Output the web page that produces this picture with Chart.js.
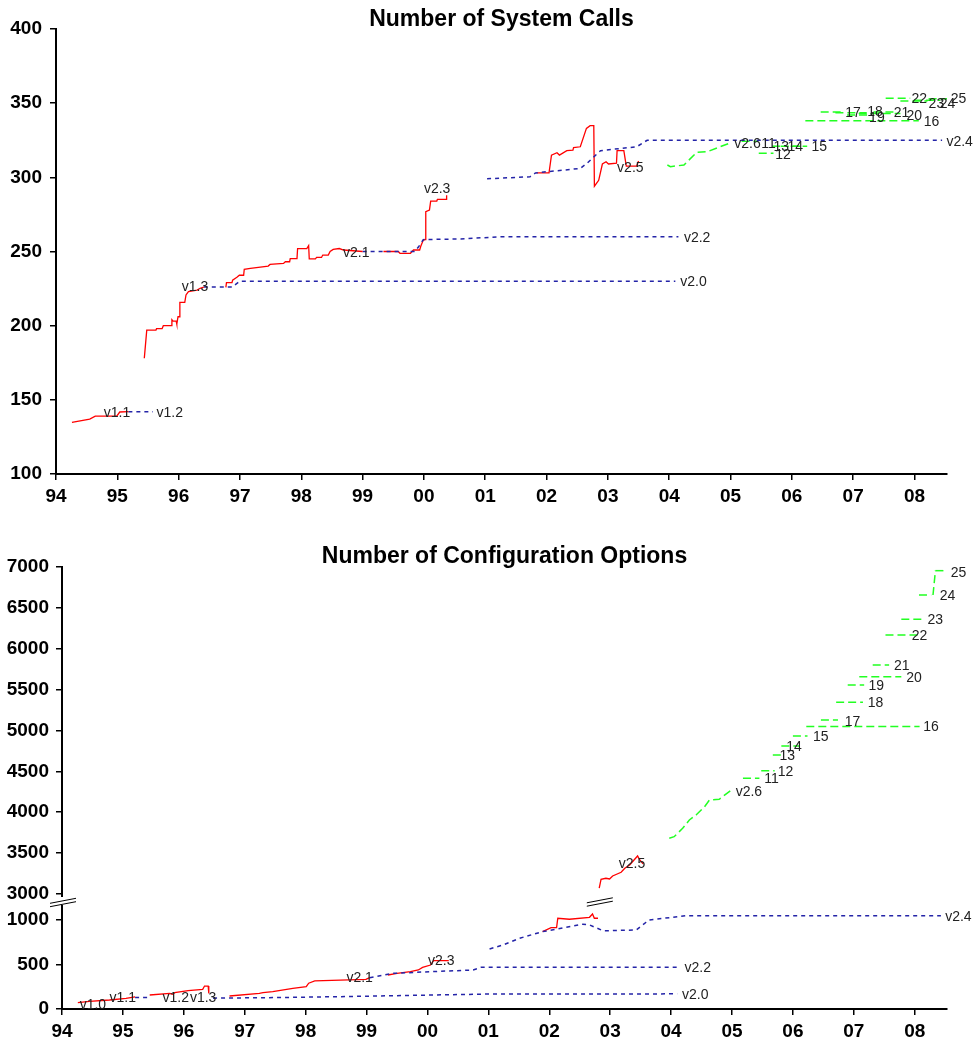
<!DOCTYPE html>
<html>
<head>
<meta charset="utf-8">
<script src="https://cdn.jsdelivr.net/npm/chart.js@4.4.1/dist/chart.umd.min.js"></script>
<style>
  body { margin: 0; background: #fff; }
  canvas { display: block; }
</style>
</head>
<body>
<canvas id="sysCalls" width="975" height="520"></canvas>
<canvas id="configOpts" width="975" height="523"></canvas>
<script>
// Axes
const yearTicks = [1994, 1995, 1996, 1997, 1998, 1999, 2000, 2001, 2002, 2003, 2004, 2005, 2006, 2007, 2008];
const yearLabels = ['94', '95', '96', '97', '98', '99', '00', '01', '02', '03', '04', '05', '06', '07', '08'];
const yearMin = 1994, yearMax = 2008.53;
const sysTicks = [100, 150, 200, 250, 300, 350, 400];
const cfgLowTicks = [0, 500, 1000];
const cfgHighTicks = [3000, 3500, 4000, 4500, 5000, 5500, 6000, 6500, 7000];

// Number of system calls: [year, count]
const sysV11 = [[1994.26, 134.8], [1994.55, 137], [1994.64, 139], [1994.99, 139], [1995.04, 141.8], [1995.18, 142]];
const sysV12 = [[1995.18, 142], [1995.58, 142]];
const sysV13 = [[1995.44, 178], [1995.48, 197], [1995.63, 197], [1995.64, 198], [1995.73, 198], [1995.75, 200],
  [1995.88, 200], [1995.89, 204], [1995.91, 203], [1995.96, 203], [1995.97, 201], [1995.99, 206], [1996.01, 206],
  [1996.02, 215.7], [1996.10, 215.7], [1996.12, 220.7], [1996.16, 223], [1996.30, 224], [1996.35, 225.2], [1996.41, 226]];
const sysV20 = [[1996.41, 226], [1996.87, 226], [1997.0, 230], [2004.1, 230]];
const sysV21 = [[1996.77, 225.8], [1996.78, 229], [1996.87, 229], [1996.88, 230.7], [1996.95, 232.6], [1996.99, 234],
  [1997.06, 234], [1997.07, 238], [1997.17, 238.6], [1997.30, 239.3], [1997.46, 240.2], [1997.49, 241.3], [1997.71, 242],
  [1997.74, 243.1], [1997.81, 243.1], [1997.82, 245.2], [1997.93, 245.2], [1997.94, 252], [1998.09, 252], [1998.12, 254],
  [1998.13, 245], [1998.23, 245], [1998.25, 246], [1998.33, 246], [1998.35, 247.6], [1998.44, 247.6], [1998.47, 250],
  [1998.52, 251.4], [1998.62, 252], [1998.69, 251], [1999.0, 250]];
const sysV22 = [[1999.0, 250], [1999.85, 250], [1999.91, 253], [1999.99, 258], [2000.6, 258.5], [2001.3, 260], [2004.15, 260]];
const sysV23 = [[1999.34, 250], [1999.58, 250], [1999.61, 248.8], [1999.78, 248.8], [1999.83, 251], [1999.93, 251],
  [1999.95, 253.7], [1999.99, 257.7], [2000.02, 258], [2000.03, 276.8], [2000.09, 278], [2000.11, 284], [2000.21, 284],
  [2000.22, 285.2], [2000.36, 285.2], [2000.37, 288]];
const sysV24 = [[2001.03, 299], [2001.73, 300.4], [2001.82, 303], [2002.55, 306], [2002.66, 309.5], [2002.88, 318],
  [2003.47, 320.6], [2003.64, 325], [2008.45, 325]];
const sysV25 = [[2001.84, 303], [2002.04, 303], [2002.08, 315], [2002.17, 316.6], [2002.21, 315], [2002.33, 318],
  [2002.43, 318.4], [2002.44, 320], [2002.55, 320.6], [2002.65, 333], [2002.71, 334.8], [2002.77, 334.8], [2002.78, 294],
  [2002.85, 298], [2002.91, 309], [2002.97, 310.5], [2003.01, 309], [2003.14, 309.5], [2003.15, 318], [2003.26, 318],
  [2003.30, 307.6], [2003.47, 307.6], [2003.50, 311]];
const sysV26 = [[2003.97, 308.3], [2004.02, 307.2], [2004.24, 308.3], [2004.45, 316.9], [2004.62, 317.3], [2005.0, 323.3]];
// 2.6.x minor releases: start year, end year, count
const sysMinorStart = [2005.18, 2005.46, 2005.68, 2005.82, 2005.98, 2006.22, 2006.47, 2006.71, 2006.90, 2007.09, 2007.33, 2007.53, 2007.77, 2007.99, 2008.23];
const sysMinorEnd = [2005.45, 2005.70, 2005.85, 2006.14, 2006.25, 2008.07, 2006.85, 2007.22, 2007.25, 2007.77, 2007.66, 2007.93, 2008.21, 2008.42, 2008.53];
const sysMinorValue = [324.3, 316.2, 321, 321, 321, 338.2, 344, 343.6, 342, 343, 344, 353.3, 351.5, 352, 353];

const sysLabelText = ['v1.1', 'v1.2', 'v1.3', 'v2.0', 'v2.1', 'v2.2', 'v2.3', 'v2.4', 'v2.5', 'v2.6',
  '11', '12', '13', '14', '15', '16', '17', '18', '19', '20', '21', '22', '23', '24', '25'];
const sysLabelX = [1994.78, 1995.64, 1996.05, 2004.18, 1998.68, 2004.24, 2000.0, 2008.52, 2003.15, 2005.06,
  2005.50, 2005.73, 2005.70, 2005.93, 2006.32, 2008.15, 2006.87, 2007.23, 2007.26, 2007.87, 2007.66, 2007.95, 2008.23, 2008.41, 2008.59];
const sysLabelY = [140.9, 140.9, 225.9, 229.2, 248.8, 259.1, 292.1, 324, 306.1, 322.5,
  322.5, 315.1, 320.4, 320.4, 320.4, 337.3, 343.4, 344.0, 340.0, 341.3, 343.4, 352.8, 349.4, 349.4, 352.8];

// Number of configuration options: [year, count]
const cfgV11 = [[1994.26, 71], [1994.45, 85], [1994.78, 101], [1995.05, 120], [1995.2, 135]];
const cfgV12 = [[1995.2, 129], [1995.45, 129]];
const cfgV13 = [[1995.44, 157], [1995.77, 176], [1995.82, 165], [1995.85, 183], [1996.07, 206], [1996.31, 221],
  [1996.34, 258], [1996.40, 258], [1996.41, 176]];
const cfgV20 = [[1996.48, 122], [1997.5, 128], [1998.5, 138], [1999.5, 150], [2000.5, 162], [2001.0, 168], [2004.1, 170]];
const cfgV21 = [[1996.75, 146], [1997.24, 176], [1997.3, 183], [1997.46, 195], [1997.79, 232], [1998.01, 250],
  [1998.05, 290], [1998.15, 315], [1998.99, 333], [1999.05, 352]];
const cfgV22 = [[1999.05, 352], [1999.43, 400], [2000.09, 420], [2000.75, 438], [2000.88, 468], [2004.14, 468]];
const cfgV23 = [[1999.35, 382], [1999.5, 400], [1999.72, 420], [1999.85, 438], [1999.92, 468], [2000.05, 494],
  [2000.1, 543], [2000.35, 543]];
const cfgV24 = [[2001.02, 674], [2001.24, 719], [2001.51, 794], [2001.89, 869], [2002.11, 895], [2002.55, 952],
  [2002.66, 944], [2002.88, 880], [2002.99, 880], [2003.43, 888], [2003.59, 974], [2003.64, 1000], [2004.25, 1048], [2008.43, 1048]];
const cfgV25Low = [[2001.89, 869], [2002.03, 913], [2002.12, 913], [2002.14, 1019], [2002.33, 1008], [2002.66, 1030],
  [2002.71, 1067], [2002.74, 1019], [2002.80, 1019]];
const cfgV25High = [[2002.82, 3070], [2002.85, 3180], [2002.93, 3192], [2002.99, 3183], [2003.04, 3220], [2003.18, 3265],
  [2003.24, 3314], [2003.32, 3355], [2003.45, 3465], [2003.48, 3424], [2003.54, 3367]];
const cfgV26 = [[2003.97, 3681], [2004.05, 3701], [2004.19, 3803], [2004.30, 3905], [2004.41, 3966], [2004.55, 4068],
  [2004.63, 4150], [2004.79, 4158], [2004.99, 4272]];
const cfgMinorStart = [2005.18, 2005.48, 2005.67, 2005.81, 2006.00, 2006.22, 2006.46, 2006.71, 2006.90, 2007.09, 2007.31, 2007.52, 2007.78, 2008.07, 2008.34];
const cfgMinorEnd = [2005.45, 2005.70, 2005.83, 2006.11, 2006.24, 2008.08, 2006.74, 2007.15, 2007.17, 2007.78, 2007.58, 2008.10, 2008.13, 2008.27, 2008.51];
const cfgMinorValue = [4415, 4508, 4700, 4810, 4933, 5050, 5128, 5345, 5557, 5658, 5801, 6168, 6360, 6657, 6955];
const cfgJump25 = [[2008.30, 6657], [2008.34, 6955]];
const cfgBreakYear = 2002.83;

const cfgLowLabelText = ['v1.0', 'v1.1', 'v1.2', 'v1.3', 'v2.0', 'v2.1', 'v2.2', 'v2.3', 'v2.4'];
const cfgLowLabelX = [1994.29, 1994.78, 1995.65, 1996.10, 2004.18, 1998.67, 2004.22, 2000.01, 2008.50];
const cfgLowLabelY = [45, 120, 120, 120, 157, 345, 457, 532, 1030];
const cfgHighLabelText = ['v2.5', 'v2.6', '11', '12', '13', '14', '15', '16', '17', '18', '19', '20', '21', '22', '23', '24', '25'];
const cfgHighLabelX = [2003.14, 2005.06, 2005.53, 2005.75, 2005.78, 2005.89, 2006.33, 2008.14, 2006.85, 2007.23, 2007.24, 2007.86, 2007.66, 2007.95, 2008.21, 2008.41, 2008.59];
const cfgHighLabelY = [3367, 4251, 4403, 4496, 4680, 4802, 4917, 5046, 5108, 5333, 5544, 5639, 5789, 6156, 6352, 6645, 6930];

Chart.defaults.font.family = "'Liberation Sans', Arial, sans-serif";
Chart.defaults.color = '#000';

var styles = {
  dev: { color: '#ff0000', width: 1.3, dash: [] },
  stable: { color: '#2424a8', width: 1.5, dash: [4, 4] },
  v26: { color: '#22ff22', width: 1.5, dash: [8, 4] }
};

function line(data, kind, yAxisID) {
  var st = styles[kind];
  return {
    data: data, yAxisID: yAxisID,
    borderColor: st.color, borderWidth: st.width, borderDash: st.dash,
    pointRadius: 0, tension: 0, fill: false
  };
}

function minorLines(start, end, value, yAxisID) {
  return start.map(function (s, i) {
    return line([[s, value[i]], [end[i], value[i]]], 'v26', yAxisID);
  });
}

function xAxis(height) {
  return {
    type: 'linear', min: yearMin, max: yearMax,
    afterBuildTicks: function (s) { s.ticks = yearTicks.map(function (v) { return { value: v }; }); },
    afterFit: function (s) { s.height = height; },
    ticks: { callback: function (v, i) { return yearLabels[i]; }, font: { size: 19, weight: 'bold' },
      padding: 5, maxRotation: 0, autoSkip: false },
    grid: { drawOnChartArea: false, tickLength: 6, color: '#000', lineWidth: 1.5 },
    border: { color: '#000', width: 2 }
  };
}

function yAxis(min, max, ticks, width, padding, extra) {
  var axis = {
    type: 'linear', position: 'left', min: min, max: max,
    afterBuildTicks: function (s) { s.ticks = ticks.map(function (v) { return { value: v }; }); },
    afterFit: function (s) { s.width = width; },
    ticks: { callback: function (v) { return String(v); }, font: { size: 19, weight: 'bold' }, padding: padding, autoSkip: false },
    grid: { drawOnChartArea: false, tickLength: 6, color: '#000', lineWidth: 1.5 },
    border: { color: '#000', width: 2 }
  };
  return Object.assign(axis, extra || {});
}

// Text labels next to the lines
function labelPlugin(groups) {
  return {
    id: 'versionLabels',
    afterDatasetsDraw: function (chart) {
      var ctx = chart.ctx, xs = chart.scales.x;
      ctx.save();
      ctx.font = "14px 'Liberation Sans', Arial, sans-serif";
      ctx.fillStyle = '#222';
      ctx.textAlign = 'left';
      ctx.textBaseline = 'middle';
      groups.forEach(function (g) {
        var ys = chart.scales[g.axis];
        g.text.forEach(function (t, i) {
          ctx.fillText(t, xs.getPixelForValue(g.x[i]), ys.getPixelForValue(g.y[i]));
        });
      });
      ctx.restore();
    }
  };
}

function drawBreak(ctx, cx, cy) {
  ctx.beginPath();
  ctx.moveTo(cx - 13, cy + 4.2); ctx.lineTo(cx + 13, cy - 0.8);
  ctx.moveTo(cx - 13, cy + 0.8); ctx.lineTo(cx + 13, cy - 4.2);
  ctx.stroke();
}

var breakPlugin = {
  id: 'axisBreak',
  afterDraw: function (chart) {
    var ctx = chart.ctx, lo = chart.scales.yLow, xs = chart.scales.x;
    var left = chart.chartArea.left, edge = lo.top;
    ctx.save();
    ctx.fillStyle = '#fff';
    ctx.fillRect(left - 3, edge - 8, 6, 8);
    ctx.strokeStyle = '#000';
    ctx.lineWidth = 1;
    drawBreak(ctx, left + 1, edge - 2.5);
    drawBreak(ctx, xs.getPixelForValue(cfgBreakYear), edge - 3);
    ctx.restore();
  }
};

function titleOpts(text, top, bottom) {
  return {
    display: true, text: text, fullSize: false,
    font: { size: 23, weight: 'bold', lineHeight: 1.2 },
    color: '#000', padding: { top: top, bottom: bottom }
  };
}

// Number of System Calls
new Chart(document.getElementById('sysCalls'), {
  type: 'line',
  data: {
    datasets: [
      line(sysV11, 'dev', 'y'), line(sysV12, 'stable', 'y'), line(sysV13, 'dev', 'y'),
      line(sysV20, 'stable', 'y'), line(sysV21, 'dev', 'y'), line(sysV22, 'stable', 'y'),
      line(sysV23, 'dev', 'y'), line(sysV24, 'stable', 'y'), line(sysV25, 'dev', 'y'),
      line(sysV26, 'v26', 'y')
    ].concat(minorLines(sysMinorStart, sysMinorEnd, sysMinorValue, 'y'))
  },
  options: {
    responsive: false, animation: false, devicePixelRatio: 1,
    layout: { padding: { left: 0, right: 28, top: 1.4, bottom: 0 } },
    plugins: {
      legend: { display: false }, tooltip: { enabled: false },
      title: titleOpts('Number of System Calls', 4, -4)
    },
    scales: {
      x: xAxis(46),
      y: yAxis(100, 400, sysTicks, 56, 8)
    }
  },
  plugins: [labelPlugin([{ axis: 'y', text: sysLabelText, x: sysLabelX, y: sysLabelY }])]
});

// Number of Configuration Options (broken y axis: two stacked scales)
new Chart(document.getElementById('configOpts'), {
  type: 'line',
  data: {
    datasets: [
      line(cfgV11, 'dev', 'yLow'), line(cfgV12, 'stable', 'yLow'), line(cfgV13, 'dev', 'yLow'),
      line(cfgV20, 'stable', 'yLow'), line(cfgV21, 'dev', 'yLow'), line(cfgV22, 'stable', 'yLow'),
      line(cfgV23, 'dev', 'yLow'), line(cfgV24, 'stable', 'yLow'), line(cfgV25Low, 'dev', 'yLow'),
      line(cfgV25High, 'dev', 'yHigh'), line(cfgV26, 'v26', 'yHigh'), line(cfgJump25, 'v26', 'yHigh')
    ].concat(minorLines(cfgMinorStart, cfgMinorEnd, cfgMinorValue, 'yHigh'))
  },
  options: {
    responsive: false, animation: false, devicePixelRatio: 1,
    layout: { padding: { left: 0, right: 28, top: 20, bottom: 0 } },
    plugins: {
      legend: { display: false }, tooltip: { enabled: false },
      title: titleOpts('Number of Configuration Options', 2.9, -3.5)
    },
    scales: {
      x: xAxis(34),
      yLow: yAxis(0, 1168, cfgLowTicks, 62, 7, { stack: 'cfg', stackWeight: 104 }),
      yHigh: yAxis(2865, 7000, cfgHighTicks, 62, 7, { stack: 'cfg', stackWeight: 338 })
    }
  },
  plugins: [
    labelPlugin([
      { axis: 'yLow', text: cfgLowLabelText, x: cfgLowLabelX, y: cfgLowLabelY },
      { axis: 'yHigh', text: cfgHighLabelText, x: cfgHighLabelX, y: cfgHighLabelY }
    ]),
    breakPlugin
  ]
});
</script>
</body>
</html>
